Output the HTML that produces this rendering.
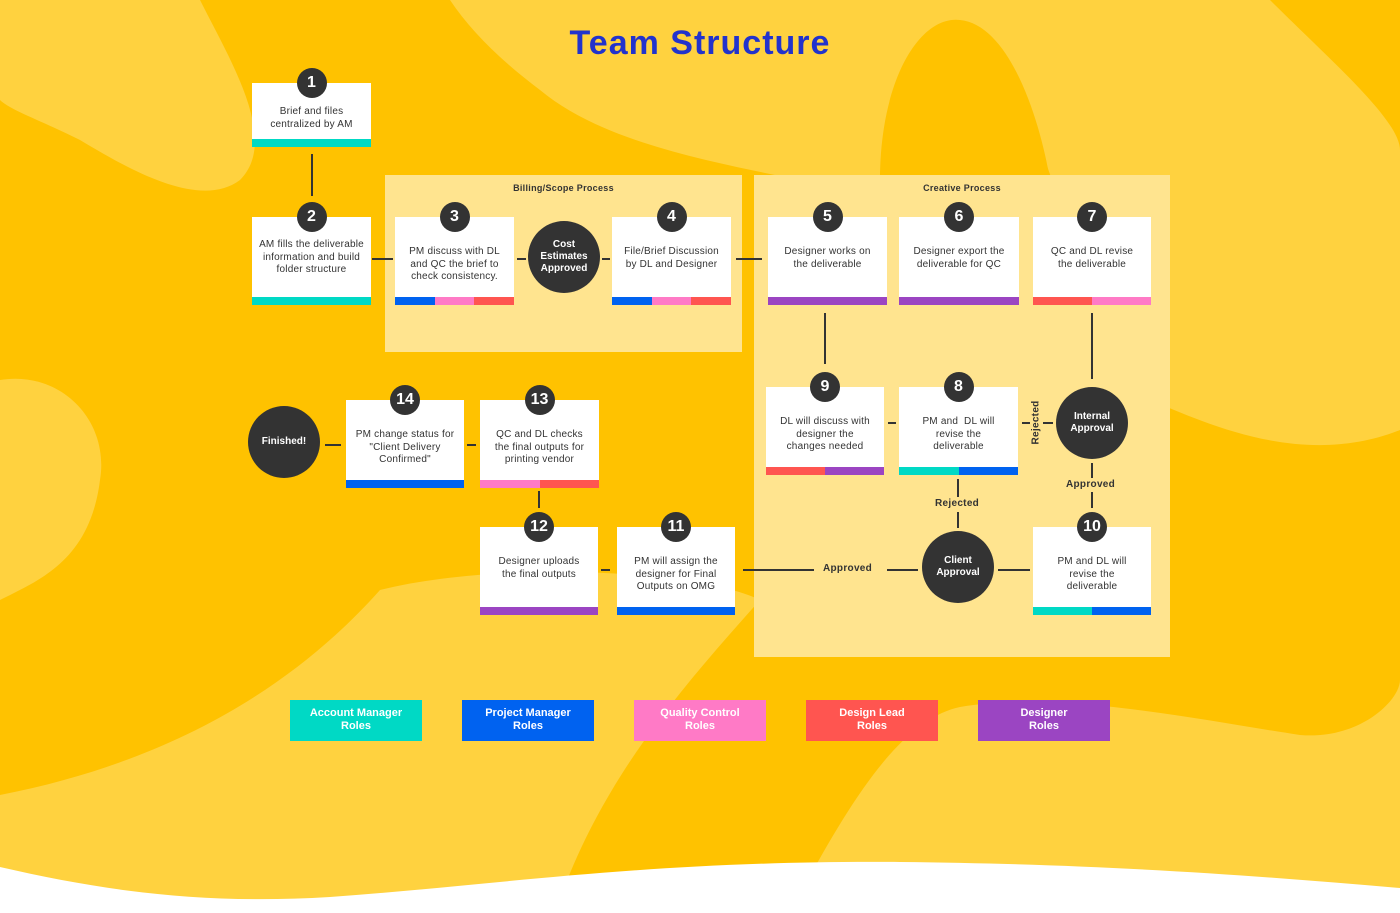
<!DOCTYPE html>
<html><head><meta charset="utf-8"><style>
body{margin:0;width:1400px;height:913px;overflow:hidden;font-family:"Liberation Sans",sans-serif;position:relative;background:#FFC200}
.abs{position:absolute}
.panel{position:absolute;background:#FFE48F}
.ptitle{position:absolute;width:100%;text-align:center;top:8px;font-size:9px;font-weight:bold;color:#333;letter-spacing:0.3px}
.box{position:absolute;background:#fff;width:119px;height:88px;box-sizing:border-box}
.box .t{position:absolute;left:9px;right:9px;top:25px;text-align:center;font-size:10px;line-height:12.5px;color:#333;letter-spacing:0.2px}
.bar{position:absolute;left:0;right:0;bottom:0;height:8px;display:flex}
.bar div{flex:1}
.num{position:absolute;width:30px;height:30px;border-radius:50%;background:#333;color:#fff;font-weight:bold;font-size:16px;line-height:30px;text-align:center;left:50%;top:-15px;margin-left:-15px}
.circ{position:absolute;width:72px;height:72px;border-radius:50%;background:#333;color:#fff;font-weight:bold;font-size:10px;line-height:12px;display:flex;align-items:center;justify-content:center;text-align:center}
.lbl{position:absolute;font-size:10px;font-weight:bold;color:#333;letter-spacing:0.3px}
.leg{position:absolute;top:700px;width:132px;height:41px;color:#fff;font-weight:bold;font-size:11px;line-height:12.5px;text-align:center;box-sizing:border-box;padding-top:7px}
.am{background:#00D9C5}.pm{background:#0062F0}.qc{background:#FF7AC6}.dl{background:#FF5550}.ds{background:#9B45C2}
</style></head><body>
<svg class="abs" style="left:0;top:0" width="1400" height="913">
<path fill="#FFD23F" d="M0 0 L200 0 C230 60 280 140 240 180 C200 210 130 170 80 140 C40 120 10 110 0 100Z"/>
<path fill="#FFD23F" d="M450 0 L1270 0 C1330 60 1400 120 1400 150 L1400 430 C1300 470 1200 420 1150 400 L1100 330 C1060 200 1020 60 960 20 C900 40 880 150 880 180 L800 180 C700 160 600 140 540 90 C500 60 470 30 450 0Z"/>
<path fill="#FFC200" d="M880 180 C880 80 920 15 960 20 C1010 25 1040 120 1050 180Z"/>
<path fill="#FFD23F" d="M0 380 C60 370 110 420 100 480 C90 560 40 580 0 600Z"/>
<path fill="#FFD23F" d="M380 590 C300 680 180 760 0 795 L0 913 L555 913 C600 780 680 690 760 600 C700 570 500 560 380 590Z"/>
<path fill="#FFD23F" d="M790 913 C850 800 900 720 960 707 C1060 690 1200 720 1300 735 C1360 740 1400 700 1400 680 L1400 913Z"/>
<path fill="#FFFFFF" d="M0 867 C100 890 200 905 330 897 C500 885 650 860 900 862 C1100 864 1250 875 1400 888 L1400 913 L0 913Z"/>
</svg>
<div class="abs" style="left:0;width:1400px;top:24px;text-align:center;font-size:34px;font-weight:bold;color:#2233CC;letter-spacing:1px">Team Structure</div>

<div class="panel" style="left:385px;top:175px;width:357px;height:177px"><div class="ptitle">Billing/Scope Process</div></div>
<div class="panel" style="left:754px;top:175px;width:416px;height:482px"><div class="ptitle">Creative Process</div></div>

<svg class="abs" style="left:0;top:0" width="1400" height="913" stroke="#333" stroke-width="2" fill="none">
<line x1="312" y1="154" x2="312" y2="196"/>
<line x1="372" y1="259" x2="393" y2="259"/>
<line x1="517" y1="259" x2="526" y2="259"/>
<line x1="602" y1="259" x2="610" y2="259"/>
<line x1="736" y1="259" x2="762" y2="259"/>
<line x1="825" y1="313" x2="825" y2="364"/>
<line x1="1092" y1="313" x2="1092" y2="379"/>
<line x1="888" y1="423" x2="896" y2="423"/>
<line x1="1022" y1="423" x2="1030" y2="423"/>
<line x1="1043" y1="423" x2="1053" y2="423"/>
<line x1="1092" y1="463" x2="1092" y2="478"/>
<line x1="1092" y1="492" x2="1092" y2="508"/>
<line x1="958" y1="479" x2="958" y2="497"/>
<line x1="958" y1="512" x2="958" y2="528"/>
<line x1="998" y1="570" x2="1030" y2="570"/>
<line x1="887" y1="570" x2="918" y2="570"/>
<line x1="743" y1="570" x2="814" y2="570"/>
<line x1="601" y1="570" x2="610" y2="570"/>
<line x1="539" y1="491" x2="539" y2="508"/>
<line x1="467" y1="445" x2="476" y2="445"/>
<line x1="325" y1="445" x2="341" y2="445"/>
</svg>

<div class="box" style="left:252px;top:83px;height:64px"><div class="num">1</div><div class="t" style="top:23px">Brief and files centralized by AM</div><div class="bar"><div class="am"></div></div></div>
<div class="box" style="left:252px;top:217px"><div class="num">2</div><div class="t" style="top:22px;left:5px;right:5px">AM fills the deliverable information and build folder structure</div><div class="bar"><div class="am"></div></div></div>
<div class="box" style="left:395px;top:217px"><div class="num">3</div><div class="t" style="top:29px;left:7px;right:7px">PM discuss with DL and QC the brief to check consistency.</div><div class="bar"><div class="pm"></div><div class="qc"></div><div class="dl"></div></div></div>
<div class="circ" style="left:528px;top:221px">Cost<br>Estimates<br>Approved</div>
<div class="box" style="left:612px;top:217px"><div class="num">4</div><div class="t" style="top:29px;left:12px;right:12px">File/Brief Discussion by DL and Designer</div><div class="bar"><div class="pm"></div><div class="qc"></div><div class="dl"></div></div></div>
<div class="box" style="left:768px;top:217px"><div class="num">5</div><div class="t" style="top:29px">Designer works on the deliverable</div><div class="bar"><div class="ds"></div></div></div>
<div class="box" style="left:899px;top:217px;width:120px"><div class="num">6</div><div class="t" style="top:29px;left:11px;right:11px">Designer export the deliverable for QC</div><div class="bar"><div class="ds"></div></div></div>
<div class="box" style="left:1033px;top:217px;width:118px"><div class="num">7</div><div class="t" style="top:29px;left:12px;right:12px">QC and DL revise the deliverable</div><div class="bar"><div class="dl"></div><div class="qc"></div></div></div>

<div class="box" style="left:766px;top:387px;width:118px"><div class="num">9</div><div class="t" style="top:29px;left:10px;right:10px">DL will discuss with designer the changes needed</div><div class="bar"><div class="dl"></div><div class="ds"></div></div></div>
<div class="box" style="left:899px;top:387px"><div class="num">8</div><div class="t" style="top:29px;left:18px;right:18px">PM and &nbsp;DL will revise the deliverable</div><div class="bar"><div class="am"></div><div class="pm"></div></div></div>
<div class="lbl" style="left:1014px;top:417px;transform:rotate(-90deg);transform-origin:center;width:44px;text-align:center">Rejected</div>
<div class="circ" style="left:1056px;top:387px">Internal<br>Approval</div>
<div class="lbl" style="left:1066px;top:479px">Approved</div>
<div class="lbl" style="left:935px;top:498px">Rejected</div>
<div class="box" style="left:1033px;top:527px;width:118px"><div class="num">10</div><div class="t" style="top:29px;left:16px;right:16px">PM and DL will revise the deliverable</div><div class="bar"><div class="am"></div><div class="pm"></div></div></div>
<div class="circ" style="left:922px;top:531px">Client<br>Approval</div>
<div class="lbl" style="left:823px;top:563px">Approved</div>
<div class="box" style="left:617px;top:527px;width:118px"><div class="num">11</div><div class="t" style="top:29px;left:10px;right:10px">PM will assign the designer for Final Outputs on OMG</div><div class="bar"><div class="pm"></div></div></div>
<div class="box" style="left:480px;top:527px;width:118px"><div class="num">12</div><div class="t" style="top:29px;left:10px;right:10px">Designer uploads the final outputs</div><div class="bar"><div class="ds"></div></div></div>
<div class="box" style="left:480px;top:400px"><div class="num">13</div><div class="t" style="top:29px;left:8px;right:8px">QC and DL checks the final outputs for printing vendor</div><div class="bar"><div class="qc"></div><div class="dl"></div></div></div>
<div class="box" style="left:346px;top:400px;width:118px"><div class="num">14</div><div class="t" style="top:29px;left:8px;right:8px">PM change status for "Client Delivery Confirmed"</div><div class="bar"><div class="pm"></div></div></div>
<div class="circ" style="left:248px;top:406px">Finished!</div>

<div class="leg am" style="left:290px">Account Manager<br>Roles</div>
<div class="leg pm" style="left:462px">Project Manager<br>Roles</div>
<div class="leg qc" style="left:634px">Quality Control<br>Roles</div>
<div class="leg dl" style="left:806px">Design Lead<br>Roles</div>
<div class="leg ds" style="left:978px">Designer<br>Roles</div>
</body></html>
